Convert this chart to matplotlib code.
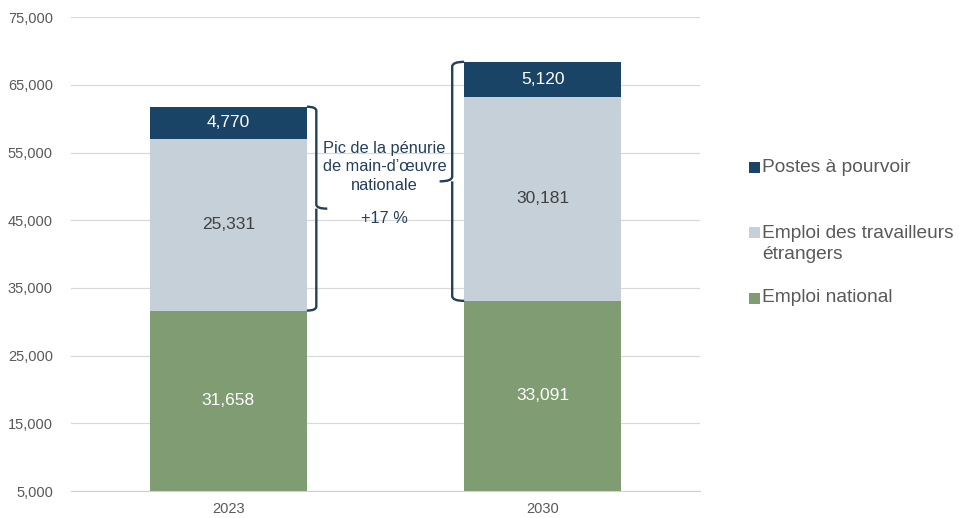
import matplotlib
matplotlib.use('Agg')
import matplotlib.pyplot as plt
from matplotlib.path import Path
from matplotlib.patches import PathPatch, Rectangle
from matplotlib.ticker import FuncFormatter

plt.rcParams['font.family'] = ['Liberation Sans', 'DejaVu Sans']

# data
years = ["2023", "2030"]
national = [31658, 33091]
foreign = [25331, 30181]
vacancies = [4770, 5120]

series_labels = ["Postes à pourvoir", "Emploi des travailleurs\nétrangers", "Emploi national"]
annotation = "Pic de la pénurie\nde main-d\u2019œuvre\nnationale"
growth = "+17 %"

COLORS = {
    "vacancies": "#1a4466",
    "foreign": "#c6d0d8",
    "national": "#7f9c72",
    "text": "#595959",
    "navy": "#243f5c",
    "grid": "#d9d9d9",
}

fig = plt.figure(figsize=(9.59, 5.18), dpi=100)
ax = fig.add_axes([0.074, 0.052, 0.656, 0.915])

x = range(len(years))
width = 0.5
base2 = [n + f for n, f in zip(national, foreign)]
ax.bar(x, national, width, color=COLORS["national"], zorder=2)
ax.bar(x, foreign, width, bottom=national, color=COLORS["foreign"], zorder=2)
ax.bar(x, vacancies, width, bottom=base2, color=COLORS["vacancies"], zorder=2)

# segment labels
for i in x:
    ax.text(i, 5000 + (national[i] - 5000) / 2, f"{national[i]:,}", ha='center', va='center',
            color='white', fontsize=12.5)
    ax.text(i, national[i] + foreign[i] / 2, f"{foreign[i]:,}", ha='center', va='center',
            color='#404040', fontsize=12.5)
    ax.text(i, base2[i] + vacancies[i] / 2, f"{vacancies[i]:,}", ha='center', va='center',
            color='white', fontsize=12.5)

ax.set_xlim(-0.5, 1.5)
ax.set_ylim(5000, 75000)
ax.set_yticks(range(5000, 75001, 10000))
ax.yaxis.set_major_formatter(FuncFormatter(lambda v, p: f"{int(v):,}"))
ax.set_xticks(list(x))
ax.set_xticklabels(years)
ax.tick_params(axis='both', length=0, labelsize=10.5, labelcolor=COLORS["text"])
ax.tick_params(axis='y', pad=13)
ax.tick_params(axis='x', pad=8)
ax.grid(axis='y', color=COLORS["grid"], linewidth=0.9, zorder=0)
for s in ['top', 'right', 'left']:
    ax.spines[s].set_visible(False)
ax.spines['bottom'].set_color('#d0d0d0')


def brace(ax, xv, top, bottom, tip, serif):
    """Square bracket with a pointed middle, drawn as a path."""
    mid = (top + bottom) / 2
    dy = (top - bottom) * 0.02
    verts = [
        (serif, top), (xv, top), (xv, top - dy),
        (xv, mid + dy), (xv, mid), (tip, mid),
        (xv, mid), (xv, mid - dy),
        (xv, bottom + dy), (xv, bottom), (serif, bottom),
    ]
    codes = [Path.MOVETO, Path.CURVE3, Path.CURVE3,
             Path.LINETO, Path.CURVE3, Path.CURVE3,
             Path.MOVETO, Path.LINETO,
             Path.LINETO, Path.CURVE3, Path.CURVE3]
    ax.add_patch(PathPatch(Path(verts, codes), facecolor='none', edgecolor=COLORS["navy"],
                           linewidth=1.7, zorder=3, clip_on=False))


top0 = base2[0] + vacancies[0]
top1 = base2[1] + vacancies[1]
brace(ax, 0.28, top0, national[0], 0.315, 0.25)
brace(ax, 0.712, top1, national[1], 0.672, 0.75)

ax.text(0.497, 52900, annotation, ha='center', va='center', color=COLORS["navy"],
        fontsize=11.8, linespacing=1.3)
ax.text(0.497, 45300, growth, ha='center', va='center', color=COLORS["navy"], fontsize=11.8)

# legend drawn by hand for uneven spacing
legend_colors = [COLORS["vacancies"], COLORS["foreign"], COLORS["national"]]
legend_y = [167, 244, 298]
for c, lbl, yp in zip(legend_colors, series_labels, legend_y):
    fy = 1 - yp / 518
    first = 1 - (yp - 12) / 518 if "\n" in lbl else fy
    fig.patches.append(Rectangle((749 / 959, first - 5.5 / 518), 11 / 959, 11 / 518,
                                 transform=fig.transFigure, facecolor=c, edgecolor='none'))
    fig.text(762 / 959, fy, lbl, ha='left', va='center', color=COLORS["text"],
             fontsize=13.8, linespacing=1.25)

fig.savefig('out.png', dpi=100, facecolor='white')
plt.close(fig)
